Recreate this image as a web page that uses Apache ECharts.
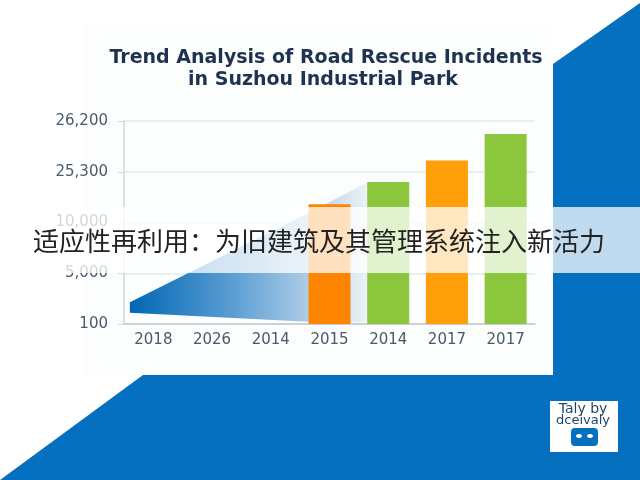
<!DOCTYPE html>
<html lang="en">
<head>
    <meta charset="UTF-8">
    <title>Trend Analysis</title>
    <style>
        html, body { margin: 0; padding: 0; background: #fff; }
        #main { width: 640px; height: 480px; }
    </style>
</head>
<body>
    <div id="main"></div>
    <script src="https://cdn.jsdelivr.net/npm/echarts@6/dist/echarts.min.js"></script>
    <script>
        var categories = ['2018', '2026', '2014', '2015', '2014', '2017', '2017'];
        var yTicks = [100, 5000, 10000, 25300, 26200];
        var barValues = [null, null, null, 15500, 22200, 25500, 25970];
        var barColors = [null, null, null, '#ff8500', '#8cc63c', '#ff9f0a', '#8cc63c'];

        // blue wedge behind the bars, x in category units, y in tick steps
        var wedgeX = [0.1, 3.22, 4.16];
        var wedgeLow = [0.22, 0.04, 0.03];
        var wedgeHigh = [0.43, 2.23, 2.8];

        var titleLines = ['Trend Analysis of Road Rescue Incidents', 'in Suzhou Industrial Park'];
        var bannerText = '适应性再利用：为旧建筑及其管理系统注入新活力';
        var logoLines = ['Taly by', 'dceivaly'];

        // the axis is not linear: ticks sit at equal steps whatever their value
        function toSteps(v) {
            for (var i = 0; i < yTicks.length - 1; i++) {
                if (v <= yTicks[i + 1]) {
                    return i + (v - yTicks[i]) / (yTicks[i + 1] - yTicks[i]);
                }
            }
            return yTicks.length - 1;
        }

        function renderWedge(params, api) {
            if (params.dataIndex !== 0) return;
            var top = [], bottom = [];
            for (var i = 0; i < wedgeX.length; i++) {
                top.push(api.coord([wedgeX[i], wedgeHigh[i]]));
                bottom.unshift(api.coord([wedgeX[i], wedgeLow[i]]));
            }
            return {
                type: 'polygon',
                shape: { points: top.concat(bottom) },
                style: {
                    fill: new echarts.graphic.LinearGradient(0, 0, 1, 0, [
                        { offset: 0, color: '#0067b5' },
                        { offset: 0.45, color: '#5fa0d4' },
                        { offset: 0.8, color: '#bcd4e9' },
                        { offset: 1, color: '#eef3f8' }
                    ])
                }
            };
        }

        var chart = echarts.init(document.getElementById('main'));
        var option = {
            animation: false,
            backgroundColor: '#ffffff',
            grid: { left: 124, right: 105, top: 121, height: 203 },
            xAxis: [{
                type: 'category',
                data: categories,
                axisLine: { lineStyle: { color: '#c4c8cc', width: 1.5 } },
                axisTick: { length: 5, lineStyle: { color: '#b4b8bc' } },
                axisLabel: { color: '#4b5a68', fontSize: 15, fontFamily: 'DejaVu Sans', margin: 9 }
            }, {
                type: 'value',
                min: 0,
                max: 7,
                show: false
            }],
            yAxis: {
                type: 'value',
                min: 0,
                max: yTicks.length - 1,
                interval: 1,
                axisLine: { show: true, lineStyle: { color: '#d4d6d9', width: 1.5 } },
                axisTick: { show: true, length: 6, lineStyle: { color: '#d8dadd' } },
                splitLine: { lineStyle: { color: '#e6e8eb', width: 1.5 } },
                axisLabel: {
                    color: function (v) { return v === 1 ? '#9aa3ab' : '#4b5a68'; },
                    fontSize: 15,
                    fontFamily: 'DejaVu Sans',
                    margin: 16,
                    formatter: function (v) { return yTicks[v].toLocaleString('en-US'); }
                }
            },
            series: [{
                type: 'custom',
                xAxisIndex: 1,
                renderItem: renderWedge,
                encode: { x: 0, y: [1, 2] },
                data: wedgeX.map(function (x, i) { return [x, wedgeLow[i], wedgeHigh[i]]; }),
                z: 1
            }, {
                type: 'bar',
                barWidth: 42,
                data: barValues.map(function (v, i) {
                    return v === null ? null : { value: toSteps(v), itemStyle: { color: barColors[i] } };
                }),
                z: 2
            }],
            graphic: [
                // page background
                { type: 'rect', z: -10, silent: true, shape: { x: 85, y: 25, width: 468, height: 350 }, style: { fill: '#fcfdfd' } },
                { type: 'polygon', z: -5, silent: true, shape: { points: [[553, 64], [640, 3], [640, 480], [0, 480], [143, 375], [553, 375]] }, style: { fill: '#0670c0' } },
                // title
                { type: 'text', z: 5, x: 326, y: 58, style: { text: titleLines[0], fill: '#1f3350', font: 'bold 19px "DejaVu Sans"', align: 'center', verticalAlign: 'middle' } },
                { type: 'text', z: 5, x: 323, y: 80, style: { text: titleLines[1], fill: '#1f3350', font: 'bold 19px "DejaVu Sans"', align: 'center', verticalAlign: 'middle' } },
                // logo
                { type: 'rect', z: 5, shape: { x: 550, y: 401, width: 68, height: 51 }, style: { fill: '#ffffff' } },
                { type: 'text', z: 6, x: 583, y: 409, style: { text: logoLines[0], fill: '#1f4668', font: '14px "DejaVu Sans"', align: 'center', verticalAlign: 'middle' } },
                { type: 'text', z: 6, x: 583, y: 421, style: { text: logoLines[1], fill: '#1f4668', font: '13px "DejaVu Sans"', align: 'center', verticalAlign: 'middle' } },
                { type: 'rect', z: 6, shape: { x: 571, y: 428, width: 27, height: 18, r: 4 }, style: { fill: '#0670c0' } },
                { type: 'ellipse', z: 7, shape: { cx: 579, cy: 436, rx: 3, ry: 2 }, style: { fill: '#ffffff' } },
                { type: 'ellipse', z: 7, shape: { cx: 590, cy: 436, rx: 3, ry: 2 }, style: { fill: '#ffffff' } },
                // banner across the chart
                { type: 'rect', z: 20, silent: true, shape: { x: 0, y: 207, width: 640, height: 66 }, style: { fill: 'rgba(255,255,255,0.75)' } },
                { type: 'text', z: 21, x: 319, y: 241, style: { text: bannerText, fill: '#222222', font: '26px "Noto Sans CJK SC"', align: 'center', verticalAlign: 'middle' } }
            ]
        };
        chart.setOption(option);
    </script>
</body>
</html>
